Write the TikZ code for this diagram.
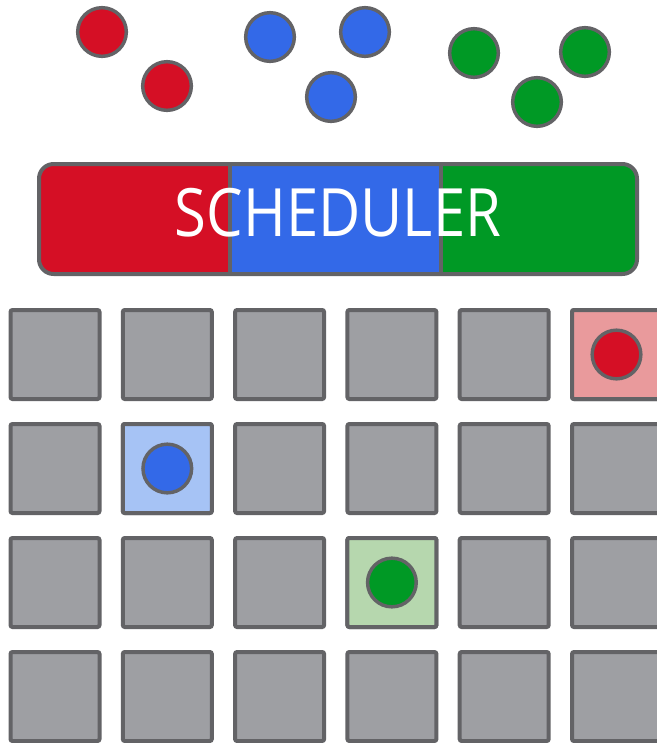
\documentclass[tikz,border=0pt]{standalone}
\usepackage{fontspec}
\setmainfont{Open Sans}
\definecolor{gred}{HTML}{D50F25}
\definecolor{gblue}{HTML}{3369E8}
\definecolor{ggreen}{HTML}{009925}
\definecolor{lred}{HTML}{E99A9C}
\definecolor{lblue}{HTML}{A6C3F5}
\definecolor{lgreen}{HTML}{B6D7AE}
\definecolor{cellgray}{HTML}{9E9FA3}
\definecolor{edgegray}{HTML}{636366}
\begin{document}
\begin{tikzpicture}[x=0.75pt,y=-0.75pt,
  cell/.style={draw=edgegray, line width=3pt, fill=cellgray, rounded corners=1.5pt, minimum size=66.75pt, inner sep=0pt},
  ball/.style={circle, draw=edgegray, line width=2.6pt, minimum size=36.5pt, inner sep=0pt}]
\useasboundingbox (0,0) rectangle (657,743);
\clip (0,0) rectangle (657,743);
% top balls
\node[ball, fill=gred] (r1) at (102,32) {};
\node[ball, fill=gred] (r2) at (167,86) {};
\node[ball, fill=gblue] (b1) at (270,37) {};
\node[ball, fill=gblue] (b2) at (365,32) {};
\node[ball, fill=gblue] (b3) at (331,97) {};
\node[ball, fill=ggreen] (g1) at (474,53) {};
\node[ball, fill=ggreen] (g2) at (585,52) {};
\node[ball, fill=ggreen] (g3) at (537,102) {};
% scheduler bar
\begin{scope}
  \clip[rounded corners=11pt] (39,164) rectangle (637,274);
  \fill[gred] (39,164) rectangle (230,274);
  \fill[gblue] (230,164) rectangle (441,274);
  \fill[ggreen] (441,164) rectangle (637,274);
\end{scope}
\draw[edgegray, line width=3pt] (230,164) -- (230,274) (441,164) -- (441,274);
\draw[edgegray, line width=3pt, rounded corners=11pt] (39,164) rectangle (637,274);
\node[text=white, font=\fontsize{50}{60}\selectfont, xscale=0.87, inner sep=0pt] (sched) at (338,213) {SCHEDULER};
% grid
\foreach \i in {0,...,5} {
  \foreach \j in {0,...,3} {
    \node[cell] (c-\i-\j) at ({55+112.3*\i},{354.5+114*\j}) {};
  }
}
\node[cell, fill=lred] (c-5-0) at ({55+112.3*5},354.5) {};
\node[cell, fill=lblue] (c-1-1) at ({55+112.3},468.5) {};
\node[cell, fill=lgreen] (c-3-2) at ({55+112.3*3},582.5) {};
\node[ball, fill=gred] (pr) at (c-5-0.center) {};
\node[ball, fill=gblue] (pb) at (c-1-1.center) {};
\node[ball, fill=ggreen] (pg) at (c-3-2.center) {};
\end{tikzpicture}
\end{document}
